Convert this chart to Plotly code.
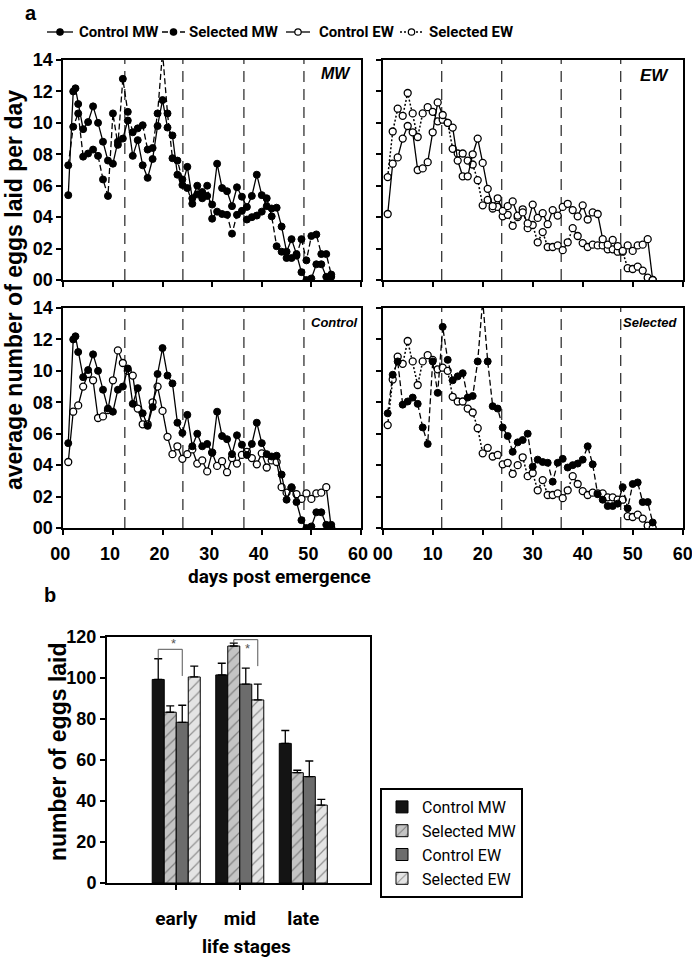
import plotly.graph_objects as go

# ---------------- data: panel a ----------------
days = list(range(1, 55))
cmw_days = [1, 2, 2.45] + list(range(3, 55))
control_mw = [5.4, 12.0, 12.2, 11.2, 9.6, 10.05, 11.05, 10.0, 8.8, 7.6, 7.4, 8.8, 9.0, 10.15,
              7.9, 8.9, 7.3, 6.5, 7.7, 9.8, 11.45, 9.7, 9.2, 6.7, 6.05, 7.2, 5.2, 6.0, 5.2,
              5.35, 4.8, 7.4, 5.85, 5.65, 4.7, 5.9, 5.3, 4.65, 5.35, 6.7, 5.4, 4.7, 4.55,
              4.6, 3.4, 1.8, 2.6, 1.65, 0.5, 0.0, 0.1, 1.0, 1.0, 0.2, 0.2]
selected_mw = [7.3, 9.75, 10.6, 7.85, 8.05, 8.3, 7.9, 6.4, 5.35, 10.6, 8.6, 12.8, 10.7, 9.4,
               9.65, 9.85, 8.3, 8.4, 10.6, 14.5, 10.6, 7.75, 7.6, 6.4, 5.85, 4.85, 5.45, 5.6,
               6.0, 3.9, 4.35, 4.2, 4.15, 2.95, 4.15, 4.4, 3.85, 4.0, 4.1, 4.35, 5.2, 4.05,
               2.15, 1.8, 1.4, 1.4, 1.55, 2.6, 1.25, 2.8, 2.9, 1.65, 1.65, 0.35]
control_ew = [4.2, 7.4, 7.8, 9.0, 9.8, 9.4, 7.0, 7.1, 7.5, 9.4, 11.3, 10.5, 10.0, 9.7, 7.6,
              6.6, 6.6, 8.0, 9.0, 7.45, 5.8, 4.7, 5.2, 4.4, 4.7, 5.0, 4.1, 4.3, 3.6, 4.8,
              3.95, 4.25, 3.55, 4.45, 4.1, 4.65, 4.85, 4.45, 4.05, 4.75, 3.85, 4.3, 4.2,
              2.6, 2.25, 2.55, 2.15, 1.85, 2.2, 1.85, 2.2, 2.25, 2.6, 0.0]
selected_ew = [6.55, 9.45, 10.9, 10.45, 11.9, 10.6, 9.1, 10.6, 11.0, 10.7, 10.1, 10.2, 10.0,
               8.35, 8.05, 8.05, 7.6, 7.35, 6.35, 4.75, 5.1, 4.55, 4.65, 4.05, 4.15, 3.45,
               4.0, 4.5, 3.3, 3.5, 2.4, 3.05, 2.1, 2.1, 2.2, 1.9, 2.4, 3.3, 2.8, 2.35, 2.1,
               2.25, 2.2, 2.2, 1.95, 1.95, 1.8, 1.8, 0.75, 0.7, 0.85, 0.6, 0.15, 0.0]

y_tickvals = [0, 2, 4, 6, 8, 10, 12, 14]
y_ticktext = ["00", "02", "04", "06", "08", "10", "12", "14"]
x_tickvals = [0, 10, 20, 30, 40, 50, 60]
x_ticktext = ["00", "10", "20", "30", "40", "50", "60"]
stage_lines_left = [12.4, 24.1, 36.4, 48.5]
stage_lines_right = [11.8, 23.8, 35.7, 47.6]

# ---------------- data: panel b ----------------
stages = ["early", "mid", "late"]
bar_names = ["Control MW", "Selected MW", "Control EW", "Selected EW"]
bar_means = [[99.3, 101.5, 68.1],
             [83.3, 115.6, 53.8],
             [78.4, 97.0, 51.9],
             [100.5, 89.3, 38.0]]
bar_errors = [[10.1, 5.7, 6.3],
              [3.1, 1.4, 1.2],
              [8.3, 7.8, 7.6],
              [5.3, 7.7, 2.8]]
bar_y_ticks = [0, 20, 40, 60, 80, 100, 120]
# significance brackets: (stage index, bar a, bar b, bracket top, end a, end b, star x offset, star y)
sig_brackets = [(0, 0, 2, 114.0, 109.4, 101.0, -0.05, 116.6),
                (1, 1, 3, 118.7, 117.0, 105.8, 0.115, 114.6)]

# ---------------- styling ----------------
W, H = 692, 960
NARROW = "Roboto, Liberation Sans, Arial, sans-serif"
SANS = "Liberation Sans, Arial, Helvetica, sans-serif"


def px(x):
    return x / W


def py(y):
    return 1 - y / H


filled = dict(symbol="circle", size=7, color="black", line=dict(color="black", width=1))
opened = dict(symbol="circle", size=7, color="white", line=dict(color="black", width=1.3))
line_styles = {
    "Control MW": dict(color="black", width=1.3),
    "Selected MW": dict(color="black", width=1.3, dash="6px,3px"),
    "Control EW": dict(color="black", width=1.3),
    "Selected EW": dict(color="black", width=1.5, dash="2px,2px"),
}
marker_styles = {"Control MW": filled, "Selected MW": filled,
                 "Control EW": opened, "Selected EW": opened}
series = {
    "Control MW": (cmw_days, control_mw),
    "Selected MW": (days, selected_mw),
    "Control EW": (days, control_ew),
    "Selected EW": (days, selected_ew),
}

panels = [
    ("x", "y", ["Selected MW", "Control MW"]),
    ("x2", "y2", ["Selected EW", "Control EW"]),
    ("x3", "y3", ["Control EW", "Control MW"]),
    ("x4", "y4", ["Selected EW", "Selected MW"]),
]

fig = go.Figure()
for xa, ya, names in panels:
    for nm in names:
        xs, ys = series[nm]
        fig.add_trace(go.Scatter(
            x=xs, y=ys, mode="lines+markers", name=nm, xaxis=xa, yaxis=ya,
            line=line_styles[nm], marker=marker_styles[nm],
            showlegend=False, cliponaxis=True,
        ))

# bars
bar_fill = [
    dict(color="#141414", line=dict(color="black", width=1)),
    dict(color="#c4c4c4", line=dict(color="black", width=1),
         pattern=dict(shape="/", fgcolor="#3a3a3a", bgcolor="#c4c4c4", size=8, solidity=0.15)),
    dict(color="#6c6c6c", line=dict(color="black", width=1)),
    dict(color="#e4e4e4", line=dict(color="black", width=1),
         pattern=dict(shape="/", fgcolor="#3a3a3a", bgcolor="#e4e4e4", size=8, solidity=0.15)),
]
for i, nm in enumerate(bar_names):
    fig.add_trace(go.Bar(
        x=stages, y=bar_means[i], name=nm, xaxis="x5", yaxis="y5",
        marker=bar_fill[i], legend="legend2", showlegend=True,
        error_y=dict(type="data", symmetric=False, array=bar_errors[i],
                     arrayminus=[0] * len(stages), color="black", thickness=1.3, width=4),
    ))

tickfont = dict(family=SANS, size=18, color="black", weight="bold")
axis_common = dict(showline=True, linecolor="black", linewidth=2, mirror=True,
                   ticks="outside", tickcolor="black", tickwidth=1.5, ticklen=5,
                   showgrid=False, zeroline=False, tickfont=tickfont,
                   ticklabeloverflow="allow")

left_dom = [px(63.3), px(361)]
right_dom = [px(382.7), px(682.7)]
top_dom = [py(280), py(60)]
bot_dom = [py(528), py(308)]

layout = dict(
    width=W, height=H, margin=dict(l=0, r=0, t=0, b=0, autoexpand=False), autosize=False,
    paper_bgcolor="white", plot_bgcolor="white",
    barmode="group", bargap=0.244, bargroupgap=0,
    showlegend=True,
)
for k, (xd, yd, xlab, ylab) in enumerate([
        (left_dom, top_dom, False, True),
        (right_dom, top_dom, False, False),
        (left_dom, bot_dom, True, True),
        (right_dom, bot_dom, True, False)], start=1):
    sx = "" if k == 1 else str(k)
    layout["xaxis" + sx] = dict(axis_common, domain=xd, range=[0, 60], tickvals=x_tickvals,
                                ticktext=x_ticktext, showticklabels=xlab, anchor="y" + sx,
                                ticklabelstandoff=3, ticklabelshift=0 if k in (2, 4) else -3)
    layout["yaxis" + sx] = dict(axis_common, domain=yd, range=[0, 14], tickvals=y_tickvals,
                                ticktext=y_ticktext, showticklabels=ylab, anchor="x" + sx)

layout["xaxis5"] = dict(axis_common, domain=[px(107), px(370)], type="category",
                        range=[-1.09, 3.05], anchor="y5",
                        tickfont=dict(family=NARROW, size=19, color="black", weight="bold"),
                        ticklabelstandoff=12)
layout["yaxis5"] = dict(axis_common, domain=[py(883), py(637)], range=[0, 120],
                        tickvals=bar_y_ticks, anchor="x5")

layout["legend2"] = dict(orientation="v", x=px(380), y=py(788), xanchor="left", yanchor="top",
                         bgcolor="white", bordercolor="black", borderwidth=2,
                         tracegroupgap=0, itemwidth=30,
                         font=dict(family=NARROW, size=16, color="black"))

fig.update_layout(**layout)

# stage dashed lines
shapes = []
for xa, ya, lines in [("x", "y", stage_lines_left), ("x2", "y2", stage_lines_right),
                      ("x3", "y3", stage_lines_left), ("x4", "y4", stage_lines_right)]:
    for v in lines:
        shapes.append(dict(type="line", xref=xa, yref=ya + " domain", x0=v, x1=v, y0=0, y1=1,
                           line=dict(color="#333333", width=1.3, dash="11px,7px"), layer="below"))

# significance brackets
bw = (1 - 0.244) / len(bar_names)
for stage_i, a, b, top, end_a, end_b, sx_, sy_ in sig_brackets:
    xa_ = stage_i + (a - 1.5) * bw
    xb_ = stage_i + (b - 1.5) * bw
    pth = f"M {xa_},{end_a} L {xa_},{top} L {xb_},{top} L {xb_},{end_b}"
    shapes.append(dict(type="path", xref="x5", yref="y5", path=pth,
                       line=dict(color="#555555", width=1)))

ann = []


def text(x, y, s, size, family=SANS, weight="bold", style="normal", angle=0, color="black",
         xanchor="center", yanchor="middle"):
    ann.append(dict(x=px(x), y=py(y), xref="paper", yref="paper", text=s, showarrow=False,
                    xanchor=xanchor, yanchor=yanchor, textangle=angle,
                    font=dict(family=family, size=size, color=color, weight=weight, style=style)))


# top legend (line key drawn as shapes, labels as text)
legend_items = [("Control MW", 47, 73, 77), ("Selected MW", 162, 185, 187),
                ("Control EW", 286, 310, 317), ("Selected EW", 400, 423, 427)]
LY = 32
for nm, x0, x1, tx in legend_items:
    ls = line_styles[nm]
    shapes.append(dict(type="line", xref="paper", yref="paper", x0=px(x0), x1=px(x1),
                       y0=py(LY), y1=py(LY),
                       line=dict(color="black", width=ls["width"], dash=ls.get("dash", "solid"))))
    cx = (x0 + x1) / 2
    r = 3.2
    fillc = "black" if marker_styles[nm]["color"] == "black" else "white"
    shapes.append(dict(type="circle", xref="paper", yref="paper",
                       x0=px(cx - r), x1=px(cx + r), y0=py(LY + r), y1=py(LY - r),
                       fillcolor=fillc, line=dict(color="black", width=1.2)))
    text(tx, LY, nm, 15, family=NARROW, xanchor="left")

fig.update_layout(shapes=shapes)

text(31, 0, "a", 20, yanchor="top")
text(50, 595, "b", 20)
text(336, 73, "MW", 16, style="italic")
text(654, 75, "EW", 17, style="italic")
text(334, 322, "Control", 13, style="italic")
text(650, 322, "Selected", 13, style="italic")
text(14, 290, "average number of eggs laid per day", 23, angle=-90)
text(279, 576, "days post emergence", 19, family=NARROW)
text(58, 752, "number of eggs laid", 23, angle=-90)
text(246, 946, "life stages", 19, family=NARROW)
for stage_i, a, b, top, end_a, end_b, sx_, sy_ in sig_brackets:
    ann.append(dict(x=stage_i + sx_, y=sy_, xref="x5", yref="y5", text="*", showarrow=False,
                    yanchor="middle", font=dict(family=SANS, size=13, color="#555555")))
fig.update_layout(annotations=ann)

fig.write_html("out.html", config={"displayModeBar": False},
               post_script="document.body.style.margin='0';document.body.style.padding='0';")
